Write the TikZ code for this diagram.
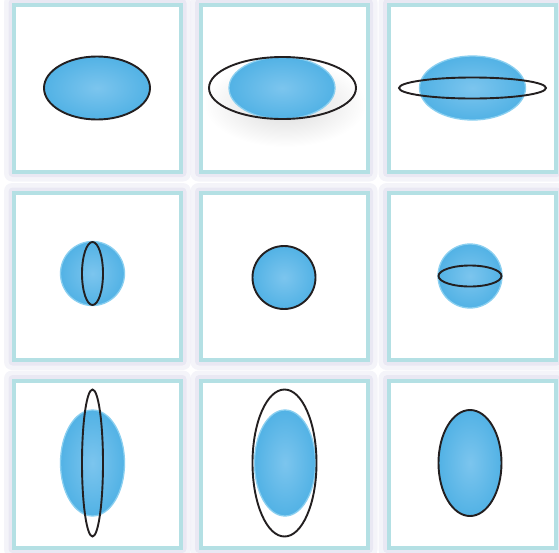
\documentclass[tikz,border=0pt]{standalone}
\usetikzlibrary{shapes.geometric}
\definecolor{frame}{HTML}{B4E0E4}
\definecolor{haze}{HTML}{DCDAEC}
\definecolor{blueIn}{HTML}{7CC5EE}
\definecolor{blueOut}{HTML}{52B2E5}
\definecolor{blueRim}{HTML}{8ACFF0}
\definecolor{ink}{HTML}{231F20}

\begin{document}
\begin{tikzpicture}[
  x=1pt, y=-1pt,
  haze/.style={fill=haze, draw=none, rounded corners=8pt, minimum size=187pt, inner sep=0pt, fill opacity=0.3},
  inner haze/.style={haze, rounded corners=4pt, minimum size=178pt, fill opacity=0.45},
  panel/.style={draw=frame, line width=4pt, fill=white, minimum size=167pt, inner sep=0pt},
  blob/.style={ellipse, inner sep=0pt, shading=radial, inner color=blueIn, outer color=blueOut, draw=blueRim, line width=1.3pt},
  edged/.style={blob, draw=ink, line width=1.9pt},
  ring/.style={ellipse, inner sep=0pt, draw=ink, line width=1.9pt}
]
\useasboundingbox (0,0) rectangle (559,552);

% panels
\foreach \c/\x in {1/97.5, 2/284, 3/472}
  \foreach \r/\y in {1/88, 2/276.5, 3/464} {
    \node[haze] at (\x,\y) {};
    \node[inner haze] at (\x,\y) {};
  }
\foreach \c/\x in {1/97.5, 2/284, 3/472}
  \foreach \r/\y in {1/88, 2/276.5, 3/464}
    \node[panel] (p\r\c) at (\x,\y) {};

% top row
\node[edged, minimum width=106pt, minimum height=63pt] (b11) at (97,88) {};

\node[ellipse, inner sep=0pt, minimum width=162pt, minimum height=86pt, shading=radial, inner color=black!15, outer color=white] (shadow) at (285,104) {};
\node[blob, minimum width=106pt, minimum height=62pt] (b12) at (282,88) {};
\node[ring, minimum width=147pt, minimum height=62pt] (r12) at (282.5,88) {};

\node[blob, minimum width=106pt, minimum height=64pt] (b13) at (472.5,88) {};
\node[ring, minimum width=147pt, minimum height=21pt] (r13) at (472.5,88) {};

% middle row
\node[blob, minimum size=64pt] (b21) at (92.5,273.5) {};
\node[ring, minimum width=21pt, minimum height=63pt] (r21) at (92.5,273.5) {};

\node[edged, minimum size=63pt] (b22) at (284,277.5) {};

\node[blob, minimum size=64pt] (b23) at (470,276) {};
\node[ring, minimum width=63pt, minimum height=21pt] (r23) at (470,276) {};

% bottom row
\node[blob, minimum width=64pt, minimum height=106pt] (b31) at (92.5,463) {};
\node[ring, minimum width=21pt, minimum height=147pt] (r31) at (92.5,463) {};

\node[blob, minimum width=61pt, minimum height=106pt] (b32) at (285,463) {};
\node[ring, minimum width=64pt, minimum height=147pt] (r32) at (284.5,463) {};

\node[edged, minimum width=63pt, minimum height=106pt] (b33) at (470,463) {};
\end{tikzpicture}
\end{document}
